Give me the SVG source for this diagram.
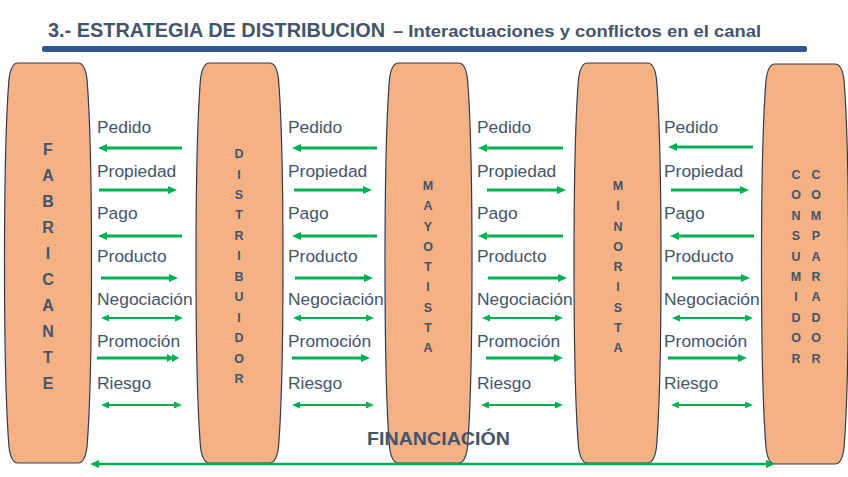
<svg xmlns="http://www.w3.org/2000/svg" width="848" height="477" viewBox="0 0 848 477">
<style>
.pill{fill:#F4B183;stroke:#2E3B55;stroke-width:1.2}
.lt{font-family:"Liberation Sans",Arial,sans-serif;font-weight:bold;fill:#44546A;text-anchor:middle}
.lab{font-family:"Liberation Sans",Arial,sans-serif;font-size:17.4px;fill:#44546A}
.a{stroke:#00B050;stroke-width:3;fill:none;marker-end:url(#ah)}
.d{stroke:#00B050;stroke-width:2;fill:none;marker-start:url(#th);marker-end:url(#th)}
.ttl{font-family:"Liberation Sans",Arial,sans-serif;font-weight:bold;fill:#44546A}
</style>
<defs>
<path id="pillar" d="M -30,0 L 30,0 C 36,0 38,8 39,16 C 45,90 45,310 39,384 C 38,392 36,400 30,400 L -30,400 C -36,400 -38,392 -39,384 C -45,310 -45,90 -39,16 C -38,8 -36,0 -30,0 Z"/>
<marker id="ah" viewBox="0 0 9 8" refX="1.5" refY="4" markerWidth="9" markerHeight="8" markerUnits="userSpaceOnUse" orient="auto-start-reverse">
<path d="M0,0 L9,4 L0,8 z" fill="#00B050"/>
</marker>
<marker id="ah2" viewBox="0 0 14 8" refX="1.5" refY="4" markerWidth="14" markerHeight="8" markerUnits="userSpaceOnUse" orient="auto-start-reverse">
<path d="M0,0 L7,4 L0,8 z M5,0 L12,4 L5,8 z" fill="#00B050"/>
</marker>
<marker id="th" viewBox="0 0 8 7" refX="1.5" refY="3.5" markerWidth="8" markerHeight="7" markerUnits="userSpaceOnUse" orient="auto-start-reverse">
<path d="M0,0 L8,3.5 L0,7 z" fill="#00B050"/>
</marker>
</defs>

<g id="title">
<text class="ttl" x="48" y="37" font-size="20" textLength="337" lengthAdjust="spacingAndGlyphs">3.- ESTRATEGIA DE DISTRIBUCION</text>
<text class="ttl" x="393" y="37" font-size="17" textLength="368" lengthAdjust="spacingAndGlyphs">– Interactuaciones y conflictos en el canal</text>
<rect x="42" y="46" width="765" height="6" rx="2" fill="#2F5597"/>
</g>

<g id="fabricante">
<use href="#pillar" class="pill" transform="translate(48,63)"/>
<text class="lt" font-size="16"><tspan x="48" y="155">F</tspan><tspan x="48" y="181">A</tspan><tspan x="48" y="207">B</tspan><tspan x="48" y="233">R</tspan><tspan x="48" y="259">I</tspan><tspan x="48" y="285">C</tspan><tspan x="48" y="311">A</tspan><tspan x="48" y="337">N</tspan><tspan x="48" y="363">T</tspan><tspan x="48" y="389">E</tspan></text>
</g>

<g id="distribuidor">
<use href="#pillar" class="pill" transform="translate(239.5,63)"/>
<text class="lt" font-size="12.5"><tspan x="239" y="158">D</tspan><tspan x="239" y="178.5">I</tspan><tspan x="239" y="198.9">S</tspan><tspan x="239" y="219.4">T</tspan><tspan x="239" y="239.8">R</tspan><tspan x="239" y="260.3">I</tspan><tspan x="239" y="280.7">B</tspan><tspan x="239" y="301.2">U</tspan><tspan x="239" y="321.6">I</tspan><tspan x="239" y="342.1">D</tspan><tspan x="239" y="362.5">O</tspan><tspan x="239" y="383">R</tspan></text>
</g>

<g id="mayotista">
<use href="#pillar" class="pill" transform="translate(428.5,63)"/>
<text class="lt" font-size="12.5"><tspan x="428" y="190">M</tspan><tspan x="428" y="210.3">A</tspan><tspan x="428" y="230.5">Y</tspan><tspan x="428" y="250.8">O</tspan><tspan x="428" y="271">T</tspan><tspan x="428" y="291.3">I</tspan><tspan x="428" y="311.5">S</tspan><tspan x="428" y="331.8">T</tspan><tspan x="428" y="352">A</tspan></text>
</g>

<g id="minorista">
<use href="#pillar" class="pill" transform="translate(617.5,63)"/>
<text class="lt" font-size="12.5"><tspan x="618" y="190">M</tspan><tspan x="618" y="210.3">I</tspan><tspan x="618" y="230.5">N</tspan><tspan x="618" y="250.8">O</tspan><tspan x="618" y="271">R</tspan><tspan x="618" y="291.3">I</tspan><tspan x="618" y="311.5">S</tspan><tspan x="618" y="331.8">T</tspan><tspan x="618" y="352">A</tspan></text>
</g>

<g id="consumidor-comprador">
<use href="#pillar" class="pill" transform="translate(805,64)"/>
<text class="lt" font-size="12.5"><tspan x="796" y="179">C</tspan><tspan x="796" y="199.4">O</tspan><tspan x="796" y="219.8">N</tspan><tspan x="796" y="240.2">S</tspan><tspan x="796" y="260.6">U</tspan><tspan x="796" y="281">M</tspan><tspan x="796" y="301.4">I</tspan><tspan x="796" y="321.8">D</tspan><tspan x="796" y="342.2">O</tspan><tspan x="796" y="362.6">R</tspan></text>
<text class="lt" font-size="12.5"><tspan x="816" y="179">C</tspan><tspan x="816" y="199.4">O</tspan><tspan x="816" y="219.8">M</tspan><tspan x="816" y="240.2">P</tspan><tspan x="816" y="260.6">A</tspan><tspan x="816" y="281">R</tspan><tspan x="816" y="301.4">A</tspan><tspan x="816" y="321.8">D</tspan><tspan x="816" y="342.2">O</tspan><tspan x="816" y="362.6">R</tspan></text>
</g>

<g id="connectors">
<!-- column 1 -->
<line class="a" x1="182" y1="148" x2="105.5" y2="148"/>
<line class="a" x1="99" y1="190" x2="169.5" y2="190"/>
<line class="a" x1="182" y1="236" x2="105.5" y2="236"/>
<line class="a" x1="101" y1="278" x2="170.5" y2="278"/>
<line class="d" x1="107.5" y1="318" x2="176.5" y2="318"/>
<line class="a" x1="97" y1="358" x2="168.5" y2="358" style="marker-end:url(#ah2)"/>
<line class="d" x1="107.5" y1="405" x2="175.5" y2="405"/>
<!-- column 2 -->
<line class="a" x1="377" y1="148" x2="299.5" y2="148"/>
<line class="a" x1="294" y1="190" x2="364.5" y2="190"/>
<line class="a" x1="377" y1="236" x2="299.5" y2="236"/>
<line class="a" x1="295" y1="278" x2="365.5" y2="278"/>
<line class="d" x1="299.5" y1="318" x2="367.5" y2="318"/>
<line class="a" x1="292" y1="358" x2="362.5" y2="358"/>
<line class="d" x1="298.5" y1="405" x2="367.5" y2="405"/>
<!-- column 3 -->
<line class="a" x1="563" y1="148" x2="485.5" y2="148"/>
<line class="a" x1="487" y1="190" x2="558.5" y2="190"/>
<line class="a" x1="563" y1="236" x2="485.5" y2="236"/>
<line class="a" x1="488" y1="278" x2="559.5" y2="278"/>
<line class="d" x1="488.5" y1="318" x2="556.5" y2="318"/>
<line class="a" x1="486" y1="358" x2="555.5" y2="358"/>
<line class="d" x1="487.5" y1="405" x2="556.5" y2="405"/>
<!-- column 4 -->
<line class="a" x1="753" y1="147" x2="675.5" y2="147"/>
<line class="a" x1="671" y1="190" x2="741.5" y2="190"/>
<line class="a" x1="754" y1="236" x2="677.5" y2="236"/>
<line class="a" x1="672" y1="278" x2="742.5" y2="278"/>
<line class="d" x1="678.5" y1="318" x2="746.5" y2="318"/>
<line class="a" x1="668" y1="358" x2="739.5" y2="358"/>
<line class="d" x1="677.5" y1="405" x2="746.5" y2="405"/>
<!-- financiacion -->
<line x1="97.5" y1="464" x2="767.5" y2="464" stroke="#00B050" stroke-width="2.5" marker-start="url(#ah)" marker-end="url(#ah)"/>
</g>

<g id="labels">
<text class="lab" x="97" y="133">Pedido</text>
<text class="lab" x="97" y="177">Propiedad</text>
<text class="lab" x="97" y="219">Pago</text>
<text class="lab" x="97" y="262">Producto</text>
<text class="lab" x="97" y="305">Negociación</text>
<text class="lab" x="97" y="347">Promoción</text>
<text class="lab" x="97" y="389">Riesgo</text>

<text class="lab" x="288" y="133">Pedido</text>
<text class="lab" x="288" y="177">Propiedad</text>
<text class="lab" x="288" y="219">Pago</text>
<text class="lab" x="288" y="262">Producto</text>
<text class="lab" x="288" y="305">Negociación</text>
<text class="lab" x="288" y="347">Promoción</text>
<text class="lab" x="288" y="389">Riesgo</text>

<text class="lab" x="477" y="133">Pedido</text>
<text class="lab" x="477" y="177">Propiedad</text>
<text class="lab" x="477" y="219">Pago</text>
<text class="lab" x="477" y="262">Producto</text>
<text class="lab" x="477" y="305">Negociación</text>
<text class="lab" x="477" y="347">Promoción</text>
<text class="lab" x="477" y="389">Riesgo</text>

<text class="lab" x="664" y="133">Pedido</text>
<text class="lab" x="664" y="177">Propiedad</text>
<text class="lab" x="664" y="219">Pago</text>
<text class="lab" x="664" y="262">Producto</text>
<text class="lab" x="664" y="305">Negociación</text>
<text class="lab" x="664" y="347">Promoción</text>
<text class="lab" x="664" y="389">Riesgo</text>
</g>

<g id="financiacion">
<text class="ttl" x="367" y="445" font-size="19" textLength="143" lengthAdjust="spacingAndGlyphs">FINANCIACIÓN</text>
</g>
</svg>
